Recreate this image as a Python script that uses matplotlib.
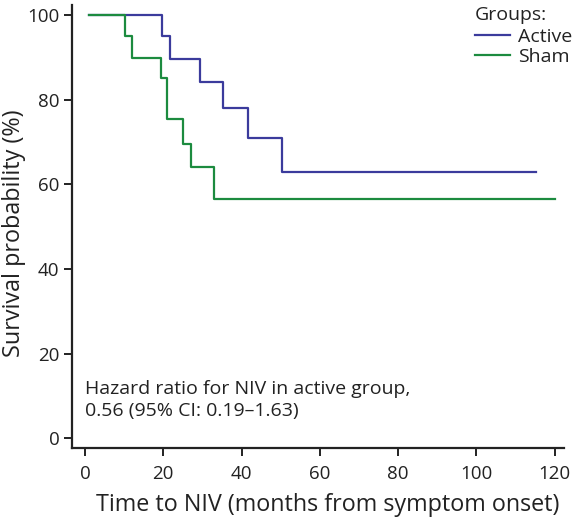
import matplotlib
matplotlib.use("Agg")
import matplotlib.pyplot as plt

plt.rcParams['font.family'] = ['Open Sans', 'DejaVu Sans']

# Data (Kaplan-Meier step curves)
active_t = [1, 19.6, 21.7, 29.4, 35.3, 41.6, 50.2, 115.1]
active_s = [100, 95.0, 89.6, 84.3, 78.0, 70.9, 63.0, 63.0]
sham_t = [1, 10.2, 11.9, 19.3, 21.0, 25.1, 27.2, 33.0, 120]
sham_s = [100, 95.0, 89.8, 85.1, 75.5, 69.5, 64.0, 56.6, 56.6]
x_ticks = [0, 20, 40, 60, 80, 100, 120]
y_ticks = [0, 20, 40, 60, 80, 100]

blue = '#3b3b9c'
green = '#1c8b3f'
dark = '#222222'

W, H = 573, 520
fig = plt.figure(figsize=(W / 100, H / 100), dpi=100)
ax = fig.add_axes([72 / W, 1 - 448 / H, (564 - 72) / W, (448 - 5) / H])

ax.step(active_t, active_s, where='post', color=blue, lw=1.6, label='Active', zorder=2)
ax.step(sham_t, sham_s, where='post', color=green, lw=1.6, label='Sham', zorder=3)

ax.set_xlim(-3.32, 122.35)
ax.set_ylim(-2.29, 102.4)
ax.set_xticks(x_ticks)
ax.set_yticks(y_ticks)
for s in ['top', 'right']:
    ax.spines[s].set_visible(False)
for s in ['left', 'bottom']:
    ax.spines[s].set_linewidth(1.6)
    ax.spines[s].set_color(dark)
ax.tick_params(axis='both', direction='out', length=6, width=1.4, color=dark,
               labelsize=13.5, labelcolor=dark, pad=3)
ax.tick_params(axis='x', pad=6)

fig.text(14 / W, 1 - 233 / H, 'Survival probability (%)', rotation=90,
         ha='center', va='center', fontsize=16.8, color=dark)
fig.text(328 / W, 1 - 505 / H, 'Time to NIV (months from symptom onset)',
         ha='center', va='center', fontsize=16.8, color=dark)

fig.text(85 / W, 1 - 400 / H,
         'Hazard ratio for NIV in active group,\n0.56 (95% CI: 0.19\u20131.63)',
         ha='left', va='center', fontsize=14, color=dark, linespacing=1.33)

leg = ax.legend(title='Groups:', loc='upper left', bbox_to_anchor=(475 / W, 1 - 6 / H),
                bbox_transform=fig.transFigure, frameon=False, handlelength=1.8,
                handletextpad=0.4, labelspacing=0.1, borderpad=0, borderaxespad=0,
                alignment='left', fontsize=14, title_fontsize=14)
leg._legend_box.sep = 3
for t in leg.get_texts():
    t.set_color(dark)
leg.get_title().set_color(dark)

fig.savefig('out.png', dpi=100)
